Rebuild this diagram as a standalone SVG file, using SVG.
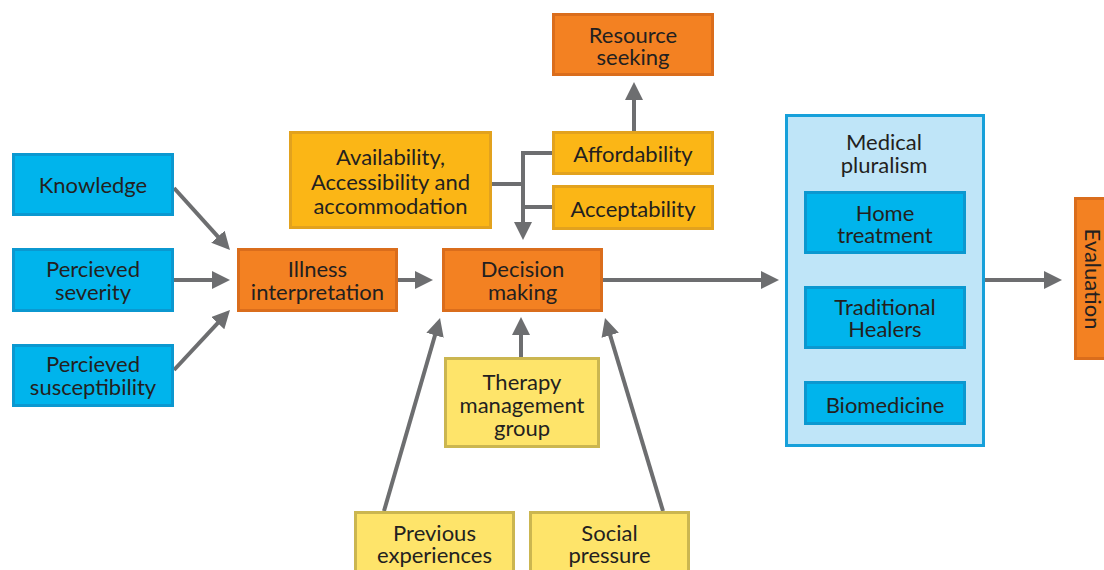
<svg xmlns="http://www.w3.org/2000/svg" width="1104" height="570" viewBox="0 0 1104 570">
  <defs>
    <marker id="head" markerUnits="userSpaceOnUse" viewBox="0 -9 18 18" markerWidth="18" markerHeight="18" refX="1" refY="0" orient="auto">
      <path d="M0,-9 L18,0 L0,9 z" fill="#6d6e70"/>
    </marker>
    <style>
      text { font-family: Lato, "Open Sans", "Liberation Sans", sans-serif; font-size: 22px; fill: #231f20; text-anchor: middle; }
      .blue rect { fill: #00b4ec; stroke: #0b98d0; stroke-width: 3; }
      .orange rect { fill: #f38122; stroke: #da6d1c; stroke-width: 3; }
      .amber rect { fill: #fbb616; stroke: #e2a21e; stroke-width: 3; }
      .yellow rect { fill: #fee46a; stroke: #cbb650; stroke-width: 3; }
      .panel rect { fill: #bfe5f8; stroke: #16a0da; stroke-width: 3; }
      .link { fill: none; stroke: #6d6e70; stroke-width: 4; }
      .arrow { marker-end: url(#head); }
    </style>
  </defs>
  <rect width="1104" height="570" fill="#ffffff"/>

  <!-- connectors -->
  <g id="connectors">
    <line class="link arrow" x1="174" y1="188" x2="218.6" y2="237.4"/>
    <line class="link arrow" x1="174" y1="280" x2="213" y2="280"/>
    <line class="link arrow" x1="174" y1="370" x2="218.4" y2="322.4"/>
    <line class="link arrow" x1="398" y1="280" x2="416" y2="280"/>
    <line class="link" x1="492" y1="184" x2="523" y2="184"/>
    <line class="link" x1="521" y1="153" x2="553" y2="153"/>
    <line class="link" x1="523" y1="207" x2="553" y2="207"/>
    <line class="link arrow" x1="523" y1="151" x2="523" y2="223"/>
    <line class="link arrow" x1="634" y1="131" x2="634" y2="99"/>
    <line class="link arrow" x1="603" y1="280" x2="762" y2="280"/>
    <line class="link arrow" x1="985" y1="280" x2="1045" y2="280"/>
    <line class="link arrow" x1="521" y1="357" x2="521" y2="334"/>
    <line class="link arrow" x1="384" y1="511" x2="435.3" y2="334.3"/>
    <line class="link arrow" x1="663" y1="511" x2="609.9" y2="334.3"/>
  </g>

  <!-- factor boxes on the left -->
  <g id="knowledge" class="blue">
    <rect x="13.5" y="154.5" width="159" height="60"/>
    <text x="93" y="193">Knowledge</text>
  </g>
  <g id="severity" class="blue">
    <rect x="13.5" y="249.5" width="159" height="61"/>
    <text x="93" y="277">Percieved</text>
    <text x="93" y="300">severity</text>
  </g>
  <g id="susceptibility" class="blue">
    <rect x="13.5" y="345.5" width="159" height="60"/>
    <text x="93" y="372">Percieved</text>
    <text x="93" y="395">susceptibility</text>
  </g>

  <!-- main process -->
  <g id="illness" class="orange">
    <rect x="238.5" y="249.5" width="158" height="61"/>
    <text x="317.5" y="277">Illness</text>
    <text x="317.5" y="300">interpretation</text>
  </g>
  <g id="decision" class="orange">
    <rect x="443.5" y="249.5" width="158" height="61"/>
    <text x="522.5" y="277">Decision</text>
    <text x="522.5" y="300">making</text>
  </g>
  <g id="resource" class="orange">
    <rect x="553.5" y="14.5" width="159" height="60"/>
    <text x="633" y="43">Resource</text>
    <text x="633" y="65">seeking</text>
  </g>

  <!-- access factors -->
  <g id="availability" class="amber">
    <rect x="290.5" y="132.5" width="200" height="95"/>
    <text x="390.5" y="165">Availability,</text>
    <text x="390.5" y="190">Accessibility and</text>
    <text x="390.5" y="214">accommodation</text>
  </g>
  <g id="affordability" class="amber">
    <rect x="553.5" y="132.5" width="159" height="41"/>
    <text x="633" y="162">Affordability</text>
  </g>
  <g id="acceptability" class="amber">
    <rect x="553.5" y="186.5" width="159" height="42"/>
    <text x="633" y="217">Acceptability</text>
  </g>

  <!-- influences from below -->
  <g id="therapy" class="yellow">
    <rect x="445.5" y="358.5" width="153" height="88"/>
    <text x="522" y="390">Therapy</text>
    <text x="522" y="413">management</text>
    <text x="522" y="436">group</text>
  </g>
  <g id="previous" class="yellow">
    <rect x="355.5" y="512.5" width="158" height="70"/>
    <text x="434.5" y="541">Previous</text>
    <text x="434.5" y="563">experiences</text>
  </g>
  <g id="social" class="yellow">
    <rect x="530.5" y="512.5" width="158" height="70"/>
    <text x="609.5" y="541">Social</text>
    <text x="609.5" y="563">pressure</text>
  </g>

  <!-- care options -->
  <g id="pluralism" class="panel">
    <rect x="786.5" y="115.5" width="197" height="330"/>
    <text x="884" y="150">Medical</text>
    <text x="884" y="173">pluralism</text>
  </g>
  <g id="home" class="blue">
    <rect x="805.5" y="192.5" width="159" height="60"/>
    <text x="885" y="221">Home</text>
    <text x="885" y="243">treatment</text>
  </g>
  <g id="healers" class="blue">
    <rect x="805.5" y="287.5" width="159" height="60"/>
    <text x="885" y="315">Traditional</text>
    <text x="885" y="337">Healers</text>
  </g>
  <g id="biomedicine" class="blue">
    <rect x="805.5" y="382.5" width="159" height="41"/>
    <text x="885" y="413">Biomedicine</text>
  </g>

  <g id="evaluation" class="orange">
    <rect x="1075.5" y="198.5" width="40" height="160"/>
    <text transform="translate(1093 279) rotate(90)" y="8">Evaluation</text>
  </g>
</svg>
